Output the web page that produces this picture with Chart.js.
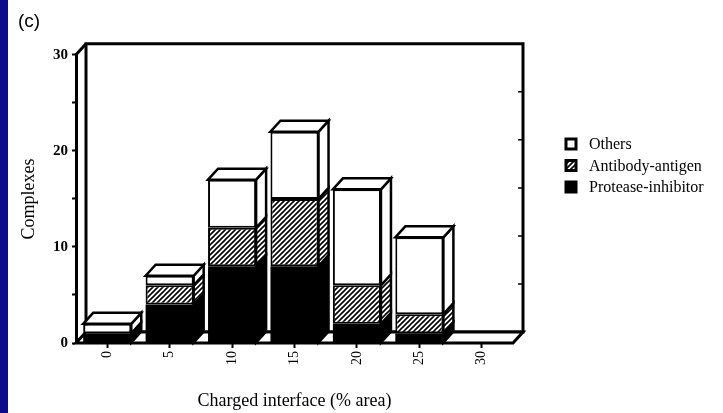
<!DOCTYPE html>
<html>
<head>
<meta charset="utf-8">
<script src="https://cdn.jsdelivr.net/npm/chart.js@4.4.0/dist/chart.umd.min.js"></script>
<style>
  html, body { margin: 0; padding: 0; background: #fff; }
</style>
</head>
<body>
<canvas id="complexChart" width="723" height="413"></canvas>
<script>
// values
const categories = ['0', '5', '10', '15', '20', '25', '30'];
const proteaseInhibitor = [1, 4, 8, 8, 2, 1, 0];
const antibodyAntigen = [0, 2, 4, 7, 4, 2, 0];
const others = [1, 1, 5, 7, 10, 8, 0];
const yTickLabels = [0, 10, 20, 30];

// depth of the fake 3D box
const DX = 10, DY = -11;

// diagonal hatch for the antibody-antigen bars
function makeHatch() {
    const c = document.createElement('canvas');
    c.width = c.height = 5;
    const p = c.getContext('2d');
    p.fillStyle = '#fff';
    p.fillRect(0, 0, 5, 5);
    p.strokeStyle = '#000';
    p.lineWidth = 1.6;
    p.beginPath();
    p.moveTo(0, 5); p.lineTo(5, 0);
    p.moveTo(-1, 1); p.lineTo(1, -1);
    p.moveTo(4, 6); p.lineTo(6, 4);
    p.stroke();
    return p.createPattern(c, 'repeat');
}
const hatch = makeHatch();

function poly(ctx, pts, fill) {
    ctx.beginPath();
    ctx.moveTo(pts[0][0], pts[0][1]);
    for (let i = 1; i < pts.length; i++) ctx.lineTo(pts[i][0], pts[i][1]);
    ctx.closePath();
    if (fill) { ctx.fillStyle = fill; ctx.fill(); }
    ctx.stroke();
}

const box3d = {
    id: 'box3d',
    beforeDraw(chart) {
        const ctx = chart.ctx;
        ctx.save();
        ctx.fillStyle = '#0b0b8c';
        ctx.fillRect(0, 0, 8, chart.height);
        ctx.restore();
    },
    beforeDatasetsDraw(chart) {
        const { ctx, chartArea: a, scales: { y } } = chart;
        ctx.save();
        ctx.strokeStyle = '#000';
        ctx.lineWidth = 3;
        // back wall
        poly(ctx, [[a.left + DX, a.top + DY], [a.right + DX, a.top + DY],
                   [a.right + DX, a.bottom + DY], [a.left + DX, a.bottom + DY]], '#fff');
        // floor
        poly(ctx, [[a.left, a.bottom], [a.right, a.bottom],
                   [a.right + DX, a.bottom + DY], [a.left + DX, a.bottom + DY]], '#fff');
        ctx.beginPath();
        ctx.moveTo(a.left, a.top);
        ctx.lineTo(a.left + DX, a.top + DY);
        ctx.stroke();
        // little ticks on the back right edge
        ctx.lineWidth = 1.5;
        ctx.beginPath();
        for (let v = 5; v < 30; v += 5) {
            const py = y.getPixelForValue(v) + DY;
            ctx.moveTo(a.right + DX, py);
            ctx.lineTo(a.right + DX - 5, py);
        }
        ctx.stroke();
        ctx.restore();
    },
    afterDatasetsDraw(chart) {
        const ctx = chart.ctx;
        ctx.save();
        ctx.strokeStyle = '#000';
        ctx.lineWidth = 2.5;
        for (let i = 0; i < chart.data.labels.length; i++) {
            let topBar = null;
            chart.data.datasets.forEach((ds, d) => {
                const bar = chart.getDatasetMeta(d).data[i];
                if (!bar || Math.abs(bar.base - bar.y) < 0.5) return;
                const xr = bar.x + bar.width / 2;
                poly(ctx, [[xr, bar.y], [xr + DX, bar.y + DY], [xr + DX, bar.base + DY], [xr, bar.base]], ds.backgroundColor);
                if (!topBar || bar.y < topBar.y) topBar = bar;
            });
            if (topBar) {
                const xl = topBar.x - topBar.width / 2, xr = topBar.x + topBar.width / 2;
                poly(ctx, [[xl, topBar.y], [xl + DX, topBar.y + DY], [xr + DX, topBar.y + DY], [xr, topBar.y]], '#fff');
            }
        }
        ctx.restore();
    },
    afterDraw(chart) {
        // legend, top item = last dataset
        const ctx = chart.ctx;
        const items = chart.data.datasets.slice().reverse();
        ctx.save();
        ctx.font = '16px "Liberation Serif"';
        ctx.textBaseline = 'middle';
        items.forEach((ds, k) => {
            const cy = 144 + k * 21.5;
            ctx.fillStyle = ds.backgroundColor;
            ctx.fillRect(566, cy - 5, 10, 10);
            ctx.strokeStyle = '#000';
            ctx.lineWidth = 3;
            ctx.strokeRect(566, cy - 5, 10, 10);
            ctx.fillStyle = '#000';
            ctx.fillText(ds.label, 589, cy + 1);
        });
        ctx.restore();
    }
};

const serif = 'Liberation Serif';

const ctx = document.getElementById('complexChart').getContext('2d');
const complexChart = new Chart(ctx, {
    type: 'bar',
    data: {
        labels: categories,
        datasets: [
            { label: 'Protease-inhibitor', data: proteaseInhibitor, backgroundColor: '#000', borderWidth: 0 },
            { label: 'Antibody-antigen', data: antibodyAntigen, backgroundColor: hatch },
            { label: 'Others', data: others, backgroundColor: '#fff' }
        ]
    },
    options: {
        responsive: false,
        animation: false,
        datasets: {
            bar: {
                borderColor: '#000',
                borderWidth: 2,
                borderSkipped: false,
                barPercentage: 0.77,
                categoryPercentage: 1.0
            }
        },
        layout: { padding: { left: 18, right: 210, top: 0, bottom: 0 } },
        scales: {
            x: {
                stacked: true,
                offset: true,
                grid: { offset: false, drawOnChartArea: false, tickLength: 5, tickWidth: 2, tickColor: '#000' },
                border: { display: false },
                ticks: { minRotation: 90, maxRotation: 90, padding: 3, color: '#000', font: { family: serif, size: 14 } },
                title: { display: true, text: 'Charged interface (% area)', color: '#000',
                         font: { family: serif, size: 18 }, padding: { top: 0, bottom: 1 } },
                afterFit(scale) { scale.height = 70; }
            },
            y: {
                stacked: true,
                min: 0,
                max: 30,
                ticks: {
                    stepSize: 5,
                    autoSkip: false,
                    padding: 4,
                    color: '#000',
                    font: { family: serif, size: 15, weight: 'bold' },
                    callback: v => yTickLabels.includes(v) ? v : ''
                },
                grid: { drawOnChartArea: false, tickLength: 4, tickWidth: 2, tickColor: '#000' },
                border: { display: true, color: '#000', width: 3 },
                title: { display: true, text: 'Complexes', color: '#000',
                         font: { family: serif, size: 18 }, padding: { top: 0, bottom: 0 } },
                afterFit(scale) { scale.width = 58; }
            }
        },
        plugins: {
            legend: { display: false },
            tooltip: { enabled: false },
            title: {
                display: true,
                text: '(c)',
                align: 'start',
                color: '#000',
                font: { family: 'Liberation Sans', size: 19, weight: 'normal' },
                padding: { top: 10, bottom: 22 }
            }
        }
    },
    plugins: [box3d]
});
</script>
</body>
</html>
